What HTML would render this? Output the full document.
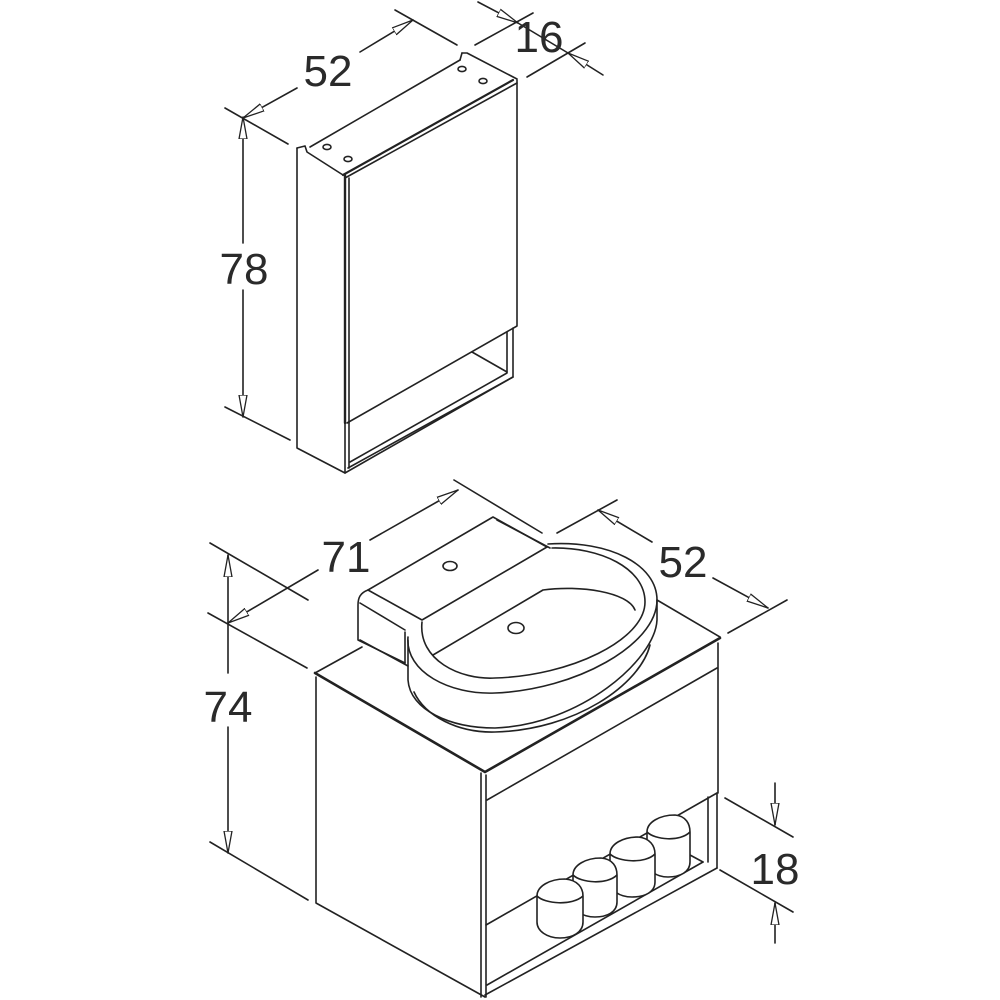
<!DOCTYPE html>
<html><head><meta charset="utf-8"><style>
html,body{margin:0;padding:0;background:#fff}
svg{display:block}
text{font-family:"Liberation Sans",sans-serif;font-size:44px;fill:#2a2a2a;text-anchor:middle}
</style></head><body>
<svg width="1000" height="1000" viewBox="0 0 1000 1000" xmlns="http://www.w3.org/2000/svg">
<defs>
<marker id="a" viewBox="0 0 22 10" refX="22" refY="5" markerWidth="22" markerHeight="10" markerUnits="userSpaceOnUse" orient="auto">
<path d="M0,1 L22,5 L0,9 Z" fill="#fff" stroke="#222" stroke-width="1.3"/>
</marker>
</defs>
<g fill="none" stroke="#222" stroke-width="1.6" stroke-linejoin="round" stroke-linecap="round">
<!-- ===== UPPER CABINET ===== -->
<path d="M297,148 L297,448 L345,473 L345,175"/>
<path d="M297,148 L305,146 L307,152 L343,175"/>
<path d="M310,147 L460,60"/>
<path d="M462,53 L467,53 L517,79"/>
<path d="M460,60 L462,53"/>
<path d="M343,175 L513,80" stroke-width="2.2"/>
<path d="M345,178 L517,83"/>
<ellipse cx="327" cy="147" rx="4" ry="2.6"/>
<ellipse cx="348" cy="159" rx="4" ry="2.6"/>
<ellipse cx="462" cy="69" rx="4" ry="2.6"/>
<ellipse cx="483" cy="81" rx="4" ry="2.6"/>
<path d="M345,175 L345,423" stroke-width="2.4"/>
<path d="M349,178 L349,423"/>
<path d="M517,80 L517,326 L347,423"/>
<path d="M349,423 L349,468"/>
<path d="M513,328 L513,377 L345,473"/>
<path d="M507,332 L507,373 L350,462"/>
<path d="M348,468 L513,377"/>
<path d="M472,352 L507,372"/>
<!-- dimensions upper -->
<path d="M225,108 L288,144"/>
<path d="M225,407 L290,440"/>
<path d="M395,10 L457,45"/>
<path d="M297,88 L243,118" marker-end="url(#a)"/>
<path d="M360,52 L413,20" marker-end="url(#a)"/>
<path d="M243,243 L243,117" marker-end="url(#a)"/>
<path d="M243,290 L243,417" marker-end="url(#a)"/>
<path d="M475,45 L533,13"/>
<path d="M527,77 L585,43"/>
<path d="M478,2 L518,23" marker-end="url(#a)"/>
<path d="M603,75 L568,53" marker-end="url(#a)"/>
<path d="M518,23 L568,53"/>
<!-- ===== LOWER CABINET ===== -->
<path d="M315,673 L362,647"/>
<path d="M315,673 L485,772 L720,638" stroke-width="2.6"/>
<path d="M657,600 L720,637"/>
<path d="M316,677 L316,903 L485,997"/>
<path d="M481,773 L481,997"/>
<path d="M486,775 L486,997"/>
<path d="M718,643 L718,793"/>
<path d="M487,800 L717,668"/>
<path d="M486,925 L717,793"/>
<path d="M708,797 L708,862"/>
<path d="M717,793 L717,868"/>
<path d="M487,985 L703,862"/>
<path d="M485,995 L717,868"/>
<path d="M690,855 L703,862"/>
</g>
<g fill="#fff" stroke="#222" stroke-width="1.6">
<path d="M647,832 C647,822 660,815 675,815 C686,816 690,824 690,832 L690,862 C690,872 680,877 668,877 C656,877 647,870 647,862 Z"/>
<path d="M647,832 C655,840 680,842 690,832" fill="none"/>
<path d="M610,854 C610,844 623,837 638,837 C650,838 655,846 655,854 L655,882 C655,892 645,897 632,897 C619,897 610,890 610,882 Z"/>
<path d="M610,854 C618,862 645,864 655,854" fill="none"/>
<path d="M573,875 C573,865 586,858 601,858 C613,859 617,867 617,875 L617,902 C617,912 607,917 595,917 C582,917 573,910 573,902 Z"/>
<path d="M573,875 C581,883 607,885 617,875" fill="none"/>
<path d="M537,896 C537,886 550,879 565,879 C578,880 583,888 583,896 L583,922 C583,932 573,938 560,938 C547,938 537,931 537,922 Z"/>
<path d="M537,896 C545,904 572,906 583,896" fill="none"/>
</g>
<g fill="none" stroke="#222" stroke-width="1.6" stroke-linejoin="round" stroke-linecap="round">
<path d="M368,590 L493,517 L547,547"/>
<path d="M497,520 L550,548"/>
<path d="M368,590 L422,620 L547,547"/>
<path d="M368,590 C360,593 358,598 358,605 L358,640 L405,663"/>
<path d="M360,603 L405,630"/>
<path d="M405,632 L405,663"/>
<path d="M360,640 L408,666"/>
<path d="M422,622 C418,660 460,680 495,678 C570,676 645,640 645,602 C645,568 600,547 552,548"/>
<path d="M408,637 C405,672 450,695 495,693 C575,690 657,645 657,600 C657,565 610,540 548,544"/>
<path d="M408,640 L408,680 C410,710 450,728 495,728 C580,725 655,660 657,620 L657,600"/>
<path d="M414,692 C425,716 458,733 495,732 C575,730 640,685 650,645"/>
<path d="M433,655 L543,590 C580,585 628,592 635,610"/>
<ellipse cx="450" cy="566" rx="7" ry="4.5"/>
<ellipse cx="516" cy="628" rx="8" ry="5.5"/>
<path d="M210,543 L308,600"/>
<path d="M208,613 L307,668"/>
<path d="M210,842 L308,900"/>
<path d="M228,673 L228,555" marker-end="url(#a)"/>
<path d="M228,727 L228,853" marker-end="url(#a)"/>
<path d="M318,570 L228,623" marker-end="url(#a)"/>
<path d="M370,540 L458,490" marker-end="url(#a)"/>
<path d="M454,480 L542,533"/>
<path d="M557,533 L617,500"/>
<path d="M728,633 L787,600"/>
<path d="M652,542 L598,510" marker-end="url(#a)"/>
<path d="M713,578 L768,608" marker-end="url(#a)"/>
<path d="M725,798 L793,837"/>
<path d="M720,870 L793,912"/>
<path d="M775,783 L775,825" marker-end="url(#a)"/>
<path d="M775,943 L775,903" marker-end="url(#a)"/>
</g>
<text x="328" y="86">52</text>
<text x="539" y="52">16</text>
<text x="244" y="284">78</text>
<text x="346" y="572">71</text>
<text x="683" y="577">52</text>
<text x="228" y="722">74</text>
<text x="775" y="884">18</text>
</svg>
</body></html>
